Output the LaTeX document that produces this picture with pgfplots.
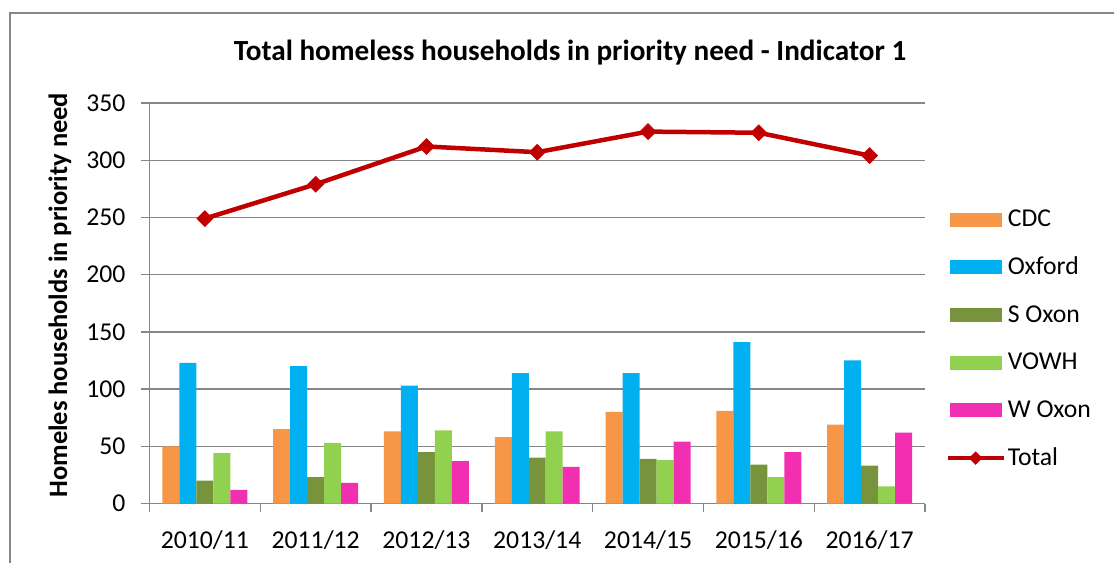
\documentclass[border=0pt]{standalone}
\usepackage{pgfplots}
\pgfplotsset{compat=1.18}
\usepackage{fontspec}
\setmainfont{Carlito}
\definecolor{cdc}{HTML}{F79646}
\definecolor{oxf}{HTML}{00B0F0}
\definecolor{sox}{HTML}{77933C}
\definecolor{vowh}{HTML}{92D050}
\definecolor{wox}{HTML}{F32FB1}
\definecolor{tot}{HTML}{C00000}
\definecolor{gridgray}{HTML}{868686}
\newcommand\ft{\fontsize{25.7bp}{30bp}\selectfont}
\pgfplotsset{
  barleg/.style={legend image code/.code={\fill[##1] (3bp,-9bp) rectangle (55bp,5bp);}},
  totleg/.style={legend image code/.code={\draw[##1, mark size=4.5bp, mark repeat=2, mark phase=2]
    plot coordinates {(1bp,-2bp) (29bp,-2bp) (57bp,-2bp)};}},
  hbar/.style={ybar, bar width=0.1534, draw=none, fill=#1},
}
\begin{document}
\begin{tikzpicture}
\path[use as bounding box] (-149.5bp,-59.5bp) rectangle (964.5bp,503.5bp);
\draw[gridgray, line width=1.3bp] (-139.5bp,-62bp) -- (-139.5bp,490.5bp) -- (966bp,490.5bp);
\begin{axis}[
  at={(0,0)}, anchor=south west,
  scale only axis, width=775.5bp, height=400.5bp,
  xmin=-0.5, xmax=6.5, ymin=0, ymax=350,
  ytick={0,50,...,350},
  xtick={-0.5,0.5,...,6.5},
  x tick label as interval,
  xticklabels={2010/11,2011/12,2012/13,2013/14,2014/15,2015/16,2016/17},
  axis x line*=bottom, axis y line*=left,
  axis line style={gridgray, line width=1.3bp},
  tick style={gridgray, line width=1.3bp},
  tick align=outside, major tick length=8.5bp,
  ymajorgrids, grid style={gridgray, line width=1.3bp},
  ticklabel style={font=\ft, /pgf/number format/assume math mode=true},
  yticklabel style={xshift=-12bp},
  xticklabel style={yshift=-15bp},
  ylabel={Homeles households in priority need},
  ylabel style={at={(axis description cs:-0.1154,0.52)}, anchor=center,
    font=\fontsize{26.5bp}{31bp}\selectfont\bfseries},
  legend style={at={(axis description cs:1.026,0.416)}, anchor=west, draw=none, fill=none,
    inner sep=0pt, font=\ft, row sep=25.7bp,
    nodes={text height=18bp, text depth=0bp, inner sep=2bp}},
  legend cell align=left,
]
\addplot[hbar=cdc, bar shift=-0.3068, barleg] coordinates {(0,50) (1,65) (2,63) (3,58) (4,80) (5,81) (6,69)};
\addplot[hbar=oxf, bar shift=-0.1534, barleg] coordinates {(0,123) (1,120) (2,103) (3,114) (4,114) (5,141) (6,125)};
\addplot[hbar=sox, bar shift=0, barleg] coordinates {(0,20) (1,23) (2,45) (3,40) (4,39) (5,34) (6,33)};
\addplot[hbar=vowh, bar shift=0.1534, barleg] coordinates {(0,44) (1,53) (2,64) (3,63) (4,38) (5,23) (6,15)};
\addplot[hbar=wox, bar shift=0.3068, barleg] coordinates {(0,12) (1,18) (2,37) (3,32) (4,54) (5,45) (6,62)};
\addplot[color=tot, line width=4.5bp, mark=square*, mark size=5.7bp,
  mark options={solid, rotate=45, line width=0.5bp}, totleg]
  coordinates {(0,249) (1,279) (2,312) (3,307) (4,325) (5,324) (6,304)};
\legend{CDC, Oxford, S Oxon, VOWH, W Oxon, Total}
\end{axis}
\node[font=\fontsize{29.2bp}{34bp}\selectfont\bfseries] at (420.5bp,450.5bp)
  {Total homeless households in priority need - Indicator 1};
\end{tikzpicture}
\end{document}
